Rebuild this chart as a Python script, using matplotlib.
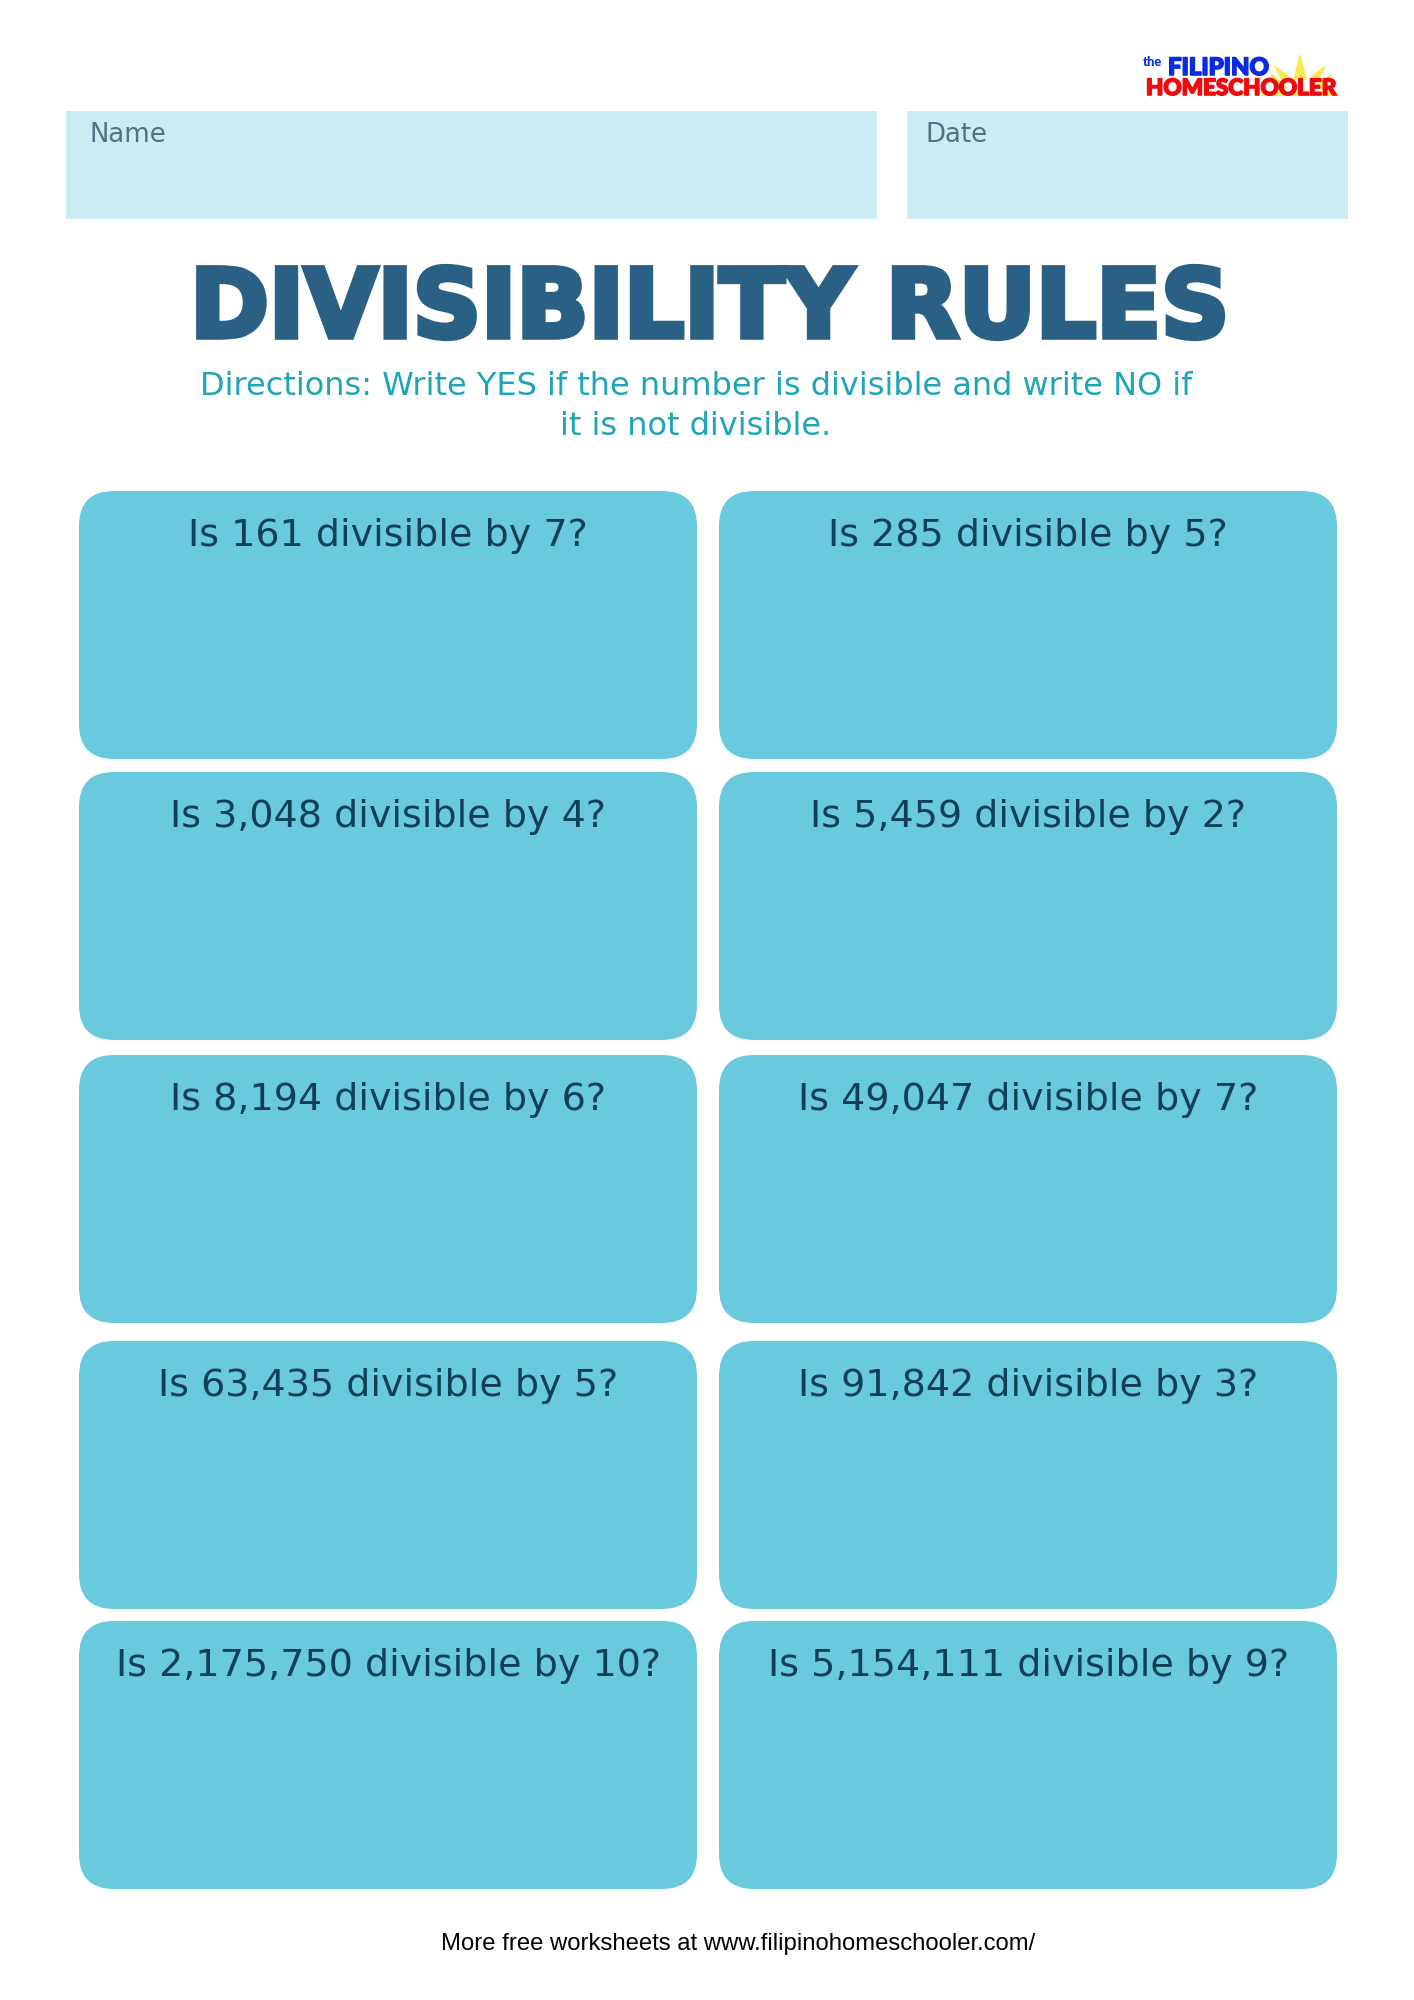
import matplotlib
matplotlib.use("Agg")
import matplotlib.pyplot as plt
from matplotlib.patches import FancyBboxPatch, Rectangle, Polygon
import matplotlib.patheffects as pe

W = 1414
H = 2000

title = "DIVISIBILITY RULES"
directions = ["Directions: Write YES if the number is divisible and write NO if",
              "it is not divisible."]
footer = "More free worksheets at www.filipinohomeschooler.com/"

left_questions = ["Is 161 divisible by 7?", "Is 3,048 divisible by 4?", "Is 8,194 divisible by 6?",
                  "Is 63,435 divisible by 5?", "Is 2,175,750 divisible by 10?"]
right_questions = ["Is 285 divisible by 5?", "Is 5,459 divisible by 2?", "Is 49,047 divisible by 7?",
                   "Is 91,842 divisible by 3?", "Is 5,154,111 divisible by 9?"]

row_tops = [491, 772, 1055, 1341, 1621]
card_h = 268
card_w = 618
left_x = 79
right_x = 719

PALE = "#cbecf3"
CARD = "#68cadc"
NAVY = "#2a6083"
TEAL = "#1fa5b8"
DARK = "#123f57"
BLUE = "#0a2be0"
RED = "#ee0a0f"
SUN = "#fbe94f"


def font_px(px):
    # sizes below are read in pixels off the page
    return px * 72 / 100


fig = plt.figure(figsize=(W / 100, H / 100), dpi=100)
ax = fig.add_axes([0, 0, 1, 1])
ax.set_xlim(0, W)
ax.set_ylim(H, 0)
ax.axis("off")

# name / date boxes
ax.add_patch(Rectangle((66, 111), 811, 108, fc=PALE, ec="none"))
ax.add_patch(Rectangle((907, 111), 441, 108, fc=PALE, ec="none"))
ax.text(90, 142, "Name", fontsize=font_px(26), family="DejaVu Sans", color="#4d7385", va="baseline")
ax.text(926, 142, "Date", fontsize=font_px(26), family="DejaVu Sans", color="#4d7385", va="baseline")

# logo, the sun goes behind the lettering
ax.add_patch(Rectangle((1262, 92), 76, 4, fc=SUN, ec="none"))
sun_rays = [[(1300, 53), (1293, 80), (1307, 80)],
            [(1274, 65), (1281, 80), (1289, 76)],
            [(1326, 65), (1319, 80), (1311, 76)],
            [(1270, 72), (1278, 90), (1288, 88)],
            [(1333, 72), (1323, 90), (1312, 88)]]
for ray in sun_rays:
    ax.add_patch(Polygon(ray, fc=SUN, ec="none"))
ax.text(1143, 66, "the", fontsize=font_px(13), family="Lato", weight="black", color=BLUE, va="baseline")
ax.text(1168, 75, "FILIPINO", fontsize=font_px(24), family="Lato", weight="black", color=BLUE,
        va="baseline", path_effects=[pe.withStroke(linewidth=1.2, foreground=BLUE)])
ax.text(1146, 95, "HOMESCHOOLER", fontsize=font_px(22.5), family="Lato", weight="black", color=RED,
        va="baseline", path_effects=[pe.withStroke(linewidth=1.2, foreground=RED)])

# heading
ax.text(710, 337, title, fontsize=font_px(94.8), family="DejaVu Sans", weight="bold", color=NAVY,
        ha="center", va="baseline",
        path_effects=[pe.withStroke(linewidth=4, foreground=NAVY, joinstyle="miter")])
ax.text(696, 395, directions[0], fontsize=font_px(32), family="DejaVu Sans", color=TEAL, ha="center", va="baseline")
ax.text(696, 435, directions[1], fontsize=font_px(32), family="DejaVu Sans", color=TEAL, ha="center", va="baseline")

# question cards
for col_x, questions in [(left_x, left_questions), (right_x, right_questions)]:
    for top, q in zip(row_tops, questions):
        ax.add_patch(FancyBboxPatch((col_x + 35, top + 35), card_w - 70, card_h - 70,
                                    boxstyle="round,pad=35,rounding_size=35", fc=CARD, ec="none"))
        ax.text(col_x + card_w / 2, top + 55, q, fontsize=font_px(38), family="DejaVu Sans", color=DARK,
                ha="center", va="baseline")

ax.text(738, 1950, footer, fontsize=font_px(23.9), family="Liberation Sans", color="black",
        ha="center", va="baseline")

fig.savefig("out.png", dpi=100)
